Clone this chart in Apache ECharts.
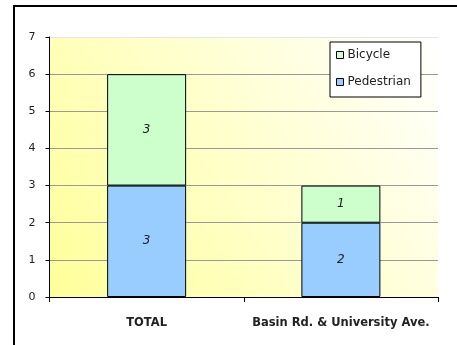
<!DOCTYPE html>
<html>
<head>
<meta charset="utf-8">
<script src="https://cdn.jsdelivr.net/npm/echarts@6/dist/echarts.min.js"></script>
<style>
  html, body { margin: 0; padding: 0; background: #fff; }
  #chart { width: 457px; height: 345px; }
</style>
</head>
<body>
<div id="chart"></div>
<script>
// Crash counts by location, stacked by mode
const categories = ['TOTAL', 'Basin Rd. & University Ave.'];
const pedestrian = [3, 2];
const bicycle = [3, 1];
const yTicks = [0, 1, 2, 3, 4, 5, 6, 7];

const chart = echarts.init(document.getElementById('chart'), null, { renderer: 'canvas' });

const labelStyle = {
  show: true,
  position: 'inside',
  fontFamily: 'DejaVu Sans',
  fontStyle: 'italic',
  fontSize: 12,
  color: '#222'
};

chart.setOption({
  animation: false,
  textStyle: { fontFamily: 'DejaVu Sans' },
  graphic: [{
    type: 'rect',
    shape: { x: 14, y: 6, width: 470, height: 360 },
    style: { fill: 'none', stroke: '#000', lineWidth: 2 },
    z: 100
  }],
  grid: {
    left: 49.5, right: 19, top: 37, bottom: 48,
    show: true,
    borderWidth: 0,
    backgroundColor: {
      type: 'linear', x: 0, y: 1, x2: 1, y2: 0,
      colorStops: [
        { offset: 0, color: '#ffff99' },
        { offset: 0.5, color: '#ffffcc' },
        { offset: 1, color: '#ffffff' }
      ]
    }
  },
  legend: {
    data: ['Bicycle', 'Pedestrian'],
    orient: 'vertical',
    left: 330, top: 42,
    width: 96,
    padding: [7, 10, 9, 6],
    itemGap: 15,
    itemWidth: 7, itemHeight: 7,
    icon: 'rect',
    backgroundColor: '#fff',
    borderColor: '#000',
    borderWidth: 1,
    itemStyle: { borderColor: '#000', borderWidth: 1 },
    textStyle: { fontFamily: 'DejaVu Sans', fontSize: 12, color: '#222', padding: [0, 0, 0, -1] }
  },
  xAxis: {
    type: 'category',
    data: categories,
    axisLine: { lineStyle: { color: '#000', width: 1 } },
    axisTick: { show: true, length: 5, lineStyle: { color: '#000' } },
    axisLabel: {
      interval: 0, hideOverlap: false,
      margin: 20, fontSize: 11.5, fontWeight: 'bold', color: '#222', fontFamily: 'DejaVu Sans'
    }
  },
  yAxis: {
    type: 'value',
    min: 0, max: 7, interval: 1,
    axisLine: { show: true, lineStyle: { color: '#000', width: 1 } },
    axisTick: { show: true, length: 4, lineStyle: { color: '#000' } },
    axisLabel: {
      margin: 14, fontSize: 11, color: '#222', fontFamily: 'DejaVu Sans',
      formatter: v => yTicks.includes(v) ? String(v) : ''
    },
    splitLine: {
      show: true,
      lineStyle: { color: ['#999', '#999', '#999', '#999', '#999', '#999', '#999', '#e6e6e6'], width: 1 }
    }
  },
  series: [
    {
      name: 'Pedestrian', type: 'bar', stack: 'mode', barWidth: 79,
      data: pedestrian,
      itemStyle: { color: '#99ccff', borderColor: '#000', borderWidth: 1 },
      label: labelStyle
    },
    {
      name: 'Bicycle', type: 'bar', stack: 'mode', barWidth: 79,
      data: bicycle,
      itemStyle: { color: '#ccffcc', borderColor: '#000', borderWidth: 1 },
      label: labelStyle
    }
  ]
});
</script>
</body>
</html>
